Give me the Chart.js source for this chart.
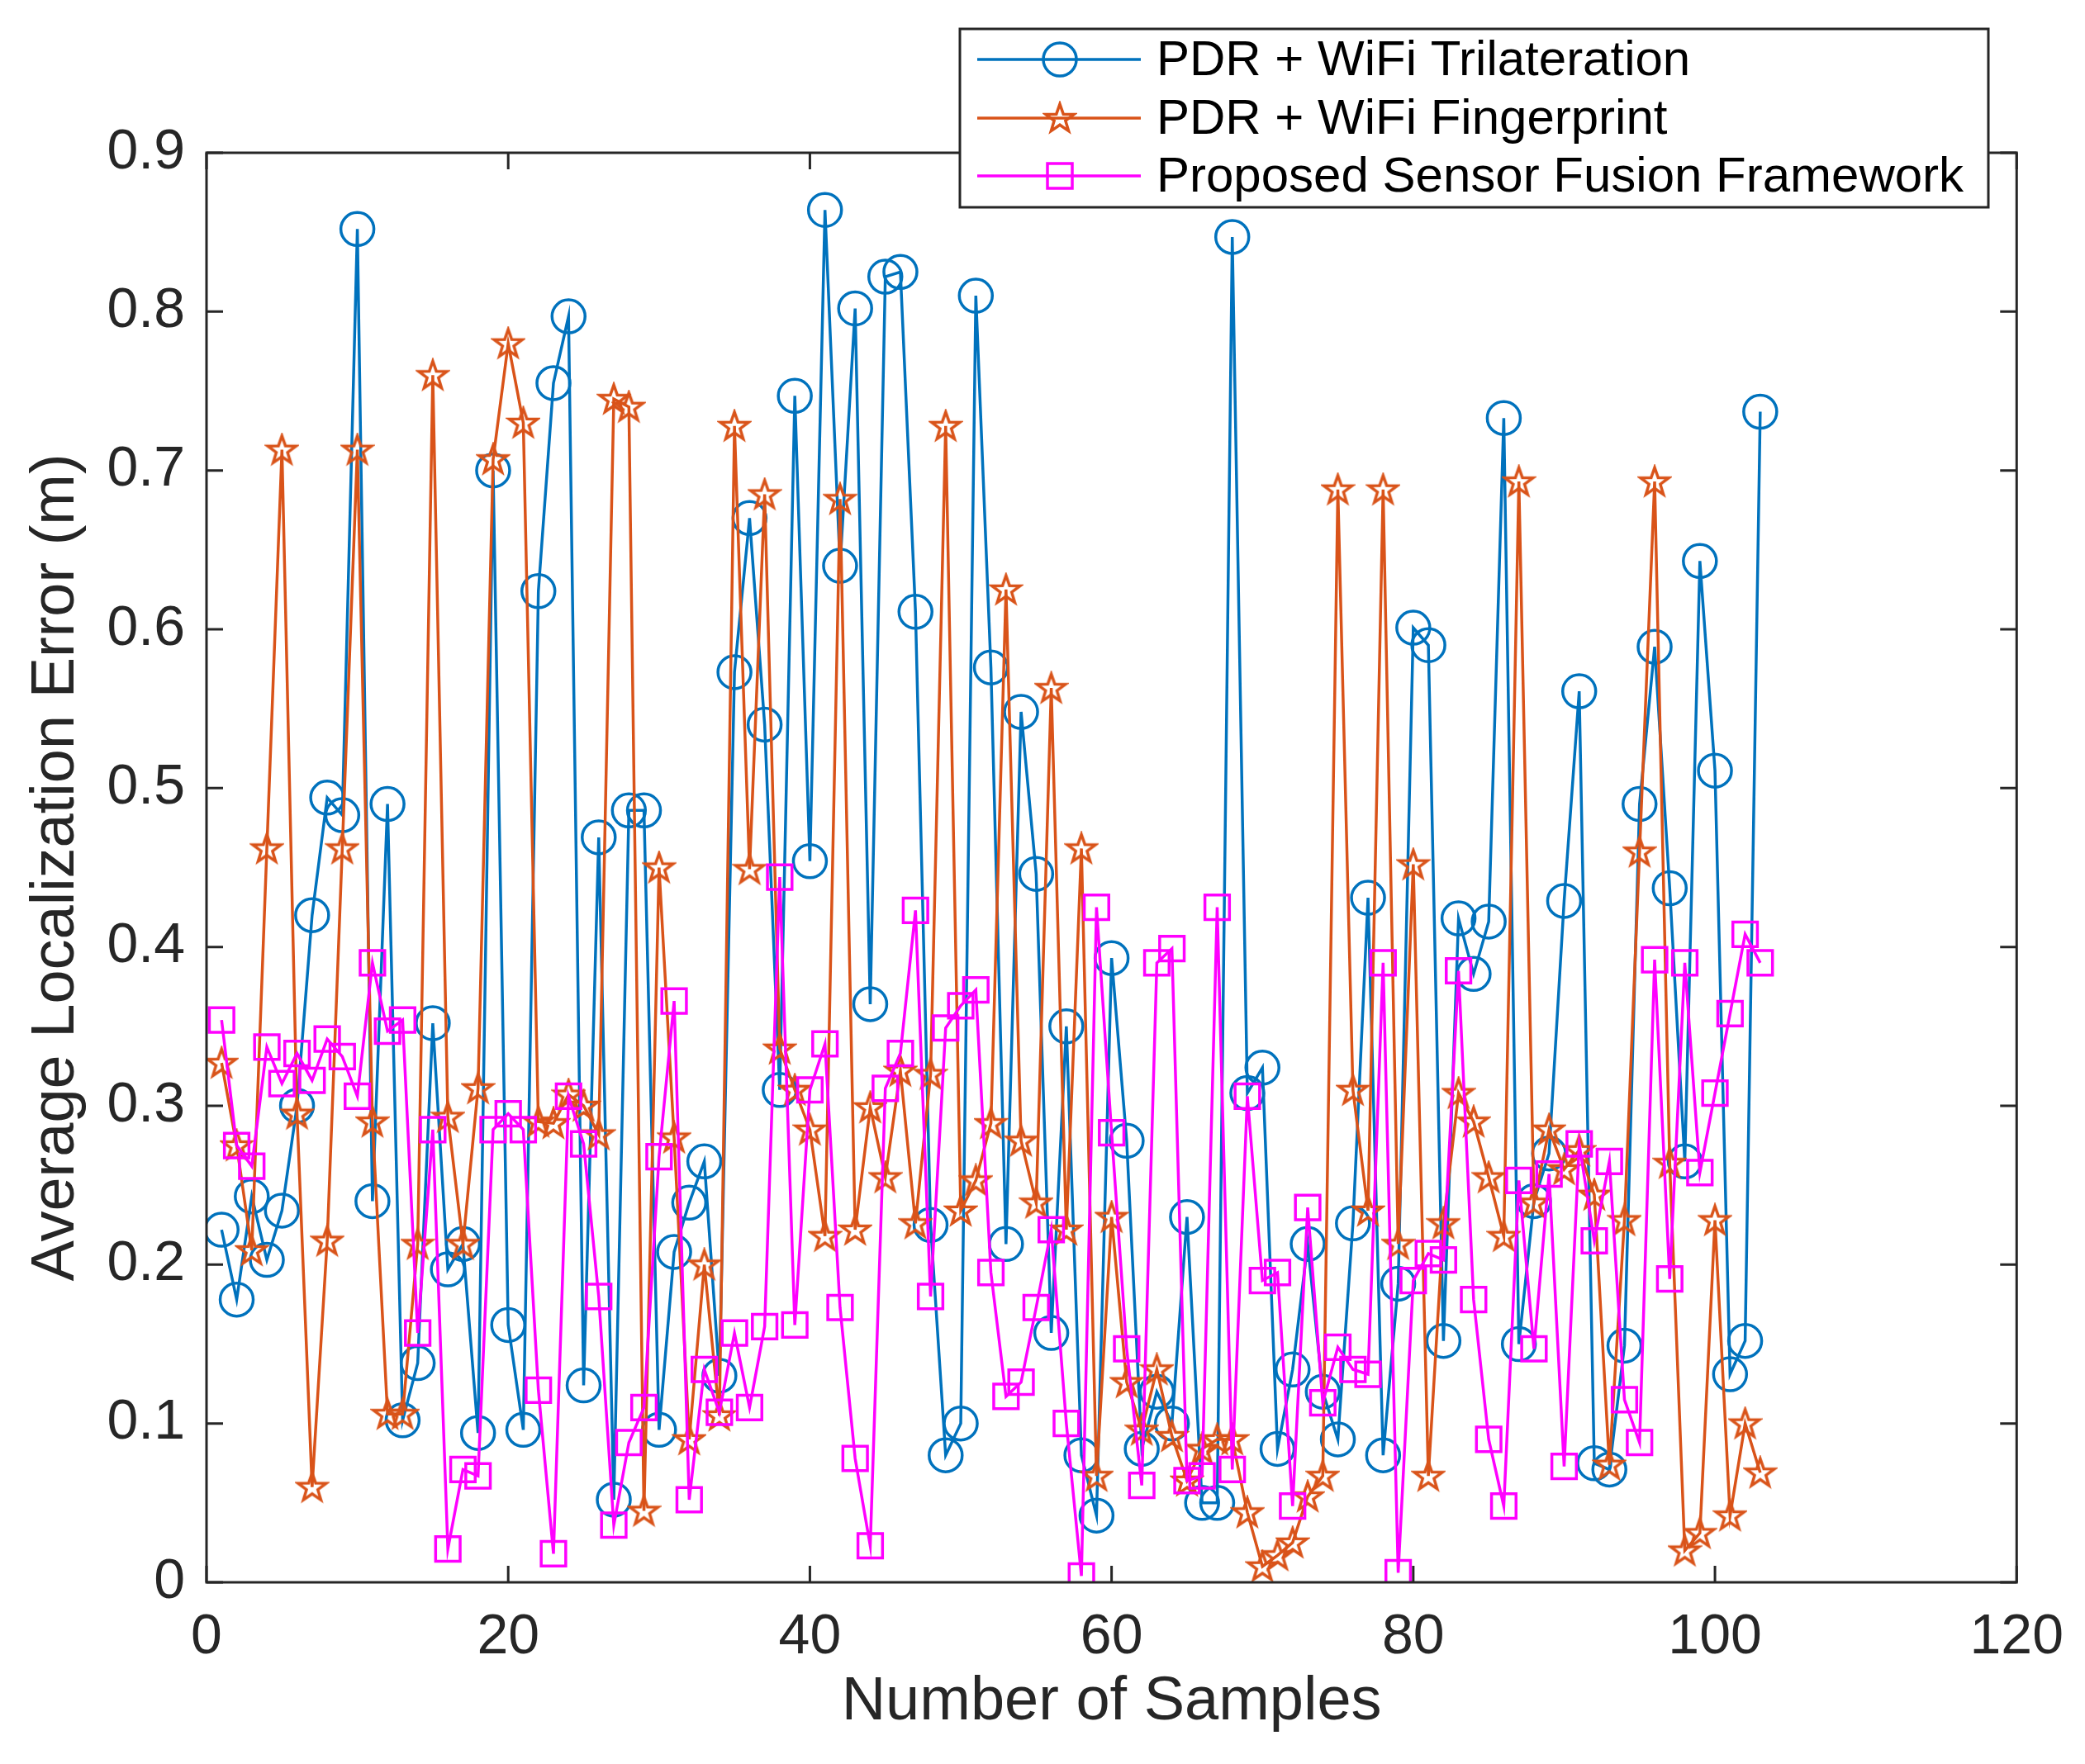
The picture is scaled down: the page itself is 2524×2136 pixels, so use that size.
<!DOCTYPE html>
<html>
<head>
<meta charset="utf-8">
<script src="https://cdn.jsdelivr.net/npm/chart.js@4.4.1/dist/chart.umd.min.js"></script>
<style>
  html, body { margin: 0; padding: 0; background: #fff; }
  #wrap { width: 2524px; height: 2136px; }
</style>
</head>
<body>
<div id="wrap"><canvas id="chart" width="2524" height="2136"></canvas></div>
<script>
// sample numbers (x axis)
const samples = [
  1, 2, 3, 4, 5, 6, 7, 8, 9, 10, 11, 12, 13, 14, 15, 16, 17, 18, 19, 20,
  21, 22, 23, 24, 25, 26, 27, 28, 29, 30, 31, 32, 33, 34, 35, 36, 37, 38, 39, 40,
  41, 42, 43, 44, 45, 46, 47, 48, 49, 50, 51, 52, 53, 54, 55, 56, 57, 58, 59, 60,
  61, 62, 63, 64, 65, 66, 67, 68, 69, 70, 71, 72, 73, 74, 75, 76, 77, 78, 79, 80,
  81, 82, 83, 84, 85, 86, 87, 88, 89, 90, 91, 92, 93, 94, 95, 96, 97, 98, 99, 100,
  101, 102, 103
];

const trilateration = [
  0.222, 0.178, 0.243, 0.203, 0.234, 0.300, 0.420, 0.494, 0.483, 0.852,
  0.240, 0.490, 0.102, 0.138, 0.352, 0.197, 0.213, 0.094, 0.700, 0.162,
  0.096, 0.624, 0.755, 0.797, 0.124, 0.469, 0.052, 0.486, 0.486, 0.096,
  0.208, 0.239, 0.265, 0.130, 0.573, 0.670, 0.540, 0.310, 0.747, 0.454,
  0.864, 0.640, 0.802, 0.364, 0.822, 0.825, 0.611, 0.225, 0.080, 0.100,
  0.810, 0.576, 0.213, 0.548, 0.446, 0.157, 0.350, 0.080, 0.042, 0.393,
  0.278, 0.084, 0.120, 0.100, 0.230, 0.050, 0.050, 0.847, 0.308, 0.324,
  0.084, 0.134, 0.213, 0.120, 0.090, 0.226, 0.431, 0.080, 0.188, 0.601,
  0.590, 0.152, 0.418, 0.383, 0.416, 0.733, 0.150, 0.240, 0.270, 0.429,
  0.561, 0.075, 0.071, 0.149, 0.490, 0.589, 0.437, 0.265, 0.643, 0.511,
  0.131, 0.152, 0.737
];

const fingerprint = [
  0.327, 0.275, 0.209, 0.462, 0.713, 0.295, 0.060, 0.215, 0.462, 0.713,
  0.290, 0.106, 0.106, 0.213, 0.760, 0.293, 0.213, 0.311, 0.707, 0.780,
  0.730, 0.290, 0.289, 0.307, 0.300, 0.282, 0.745, 0.740, 0.045, 0.450,
  0.280, 0.090, 0.200, 0.105, 0.728, 0.449, 0.685, 0.336, 0.310, 0.285,
  0.218, 0.682, 0.222, 0.299, 0.255, 0.322, 0.226, 0.320, 0.728, 0.234,
  0.253, 0.289, 0.625, 0.278, 0.239, 0.563, 0.222, 0.462, 0.067, 0.230,
  0.126, 0.096, 0.134, 0.092, 0.064, 0.084, 0.090, 0.090, 0.044, 0.010,
  0.017, 0.025, 0.054, 0.067, 0.688, 0.310, 0.234, 0.688, 0.213, 0.452,
  0.067, 0.226, 0.308, 0.290, 0.255, 0.218, 0.693, 0.239, 0.285, 0.260,
  0.272, 0.244, 0.074, 0.228, 0.460, 0.693, 0.264, 0.020, 0.031, 0.228,
  0.042, 0.100, 0.069
];

const fusion = [
  0.354, 0.275, 0.262, 0.337, 0.314, 0.333, 0.316, 0.342, 0.331, 0.306,
  0.390, 0.347, 0.354, 0.157, 0.285, 0.021, 0.071, 0.067, 0.285, 0.295,
  0.285, 0.121, 0.018, 0.306, 0.276, 0.180, 0.036, 0.088, 0.110, 0.268,
  0.366, 0.052, 0.134, 0.107, 0.157, 0.110, 0.161, 0.444, 0.162, 0.310,
  0.339, 0.173, 0.078, 0.023, 0.311, 0.333, 0.423, 0.180, 0.349, 0.363,
  0.373, 0.195, 0.117, 0.126, 0.173, 0.222, 0.100, 0.004, 0.425, 0.283,
  0.147, 0.061, 0.390, 0.399, 0.064, 0.067, 0.425, 0.071, 0.306, 0.190,
  0.195, 0.048, 0.236, 0.113, 0.148, 0.134, 0.131, 0.390, 0.006, 0.190,
  0.207, 0.203, 0.385, 0.178, 0.090, 0.048, 0.253, 0.147, 0.257, 0.073,
  0.276, 0.215, 0.265, 0.115, 0.088, 0.392, 0.191, 0.390, 0.258, 0.308,
  0.358, 0.408, 0.390
];

const seriesNames = [
  'PDR + WiFi Trilateration',
  'PDR + WiFi Fingerprint',
  'Proposed Sensor Fusion Framework'
];
const xTicks = [0, 20, 40, 60, 80, 100, 120];
const yTicks = [0, 0.1, 0.2, 0.3, 0.4, 0.5, 0.6, 0.7, 0.8, 0.9];

const BLUE = '#0072BD';
const ORANGE = '#D95319';
const MAGENTA = '#FF00FF';
const INK = '#262626';
const FONT = '"Liberation Sans", Arial, Helvetica, sans-serif';

// hollow pentagram marker like MATLAB's 'p'
function makeStar(color, size) {
  const c = document.createElement('canvas');
  c.width = size; c.height = size;
  const g = c.getContext('2d');
  const cx = size / 2, cy = size / 2 + 1;
  const ro = size / 2 - 3, ri = ro * 0.4;
  g.beginPath();
  for (let k = 0; k < 10; k++) {
    const r = k % 2 === 0 ? ro : ri;
    const a = -Math.PI / 2 + k * Math.PI / 5;
    const px = cx + r * Math.cos(a), py = cy + r * Math.sin(a);
    if (k === 0) g.moveTo(px, py); else g.lineTo(px, py);
  }
  g.closePath();
  g.lineWidth = 3.5;
  g.strokeStyle = color;
  g.stroke();
  return c;
}
const starImg = makeStar(ORANGE, 42);

const toPoints = vals => vals.map((v, i) => ({ x: samples[i], y: v }));

// box, inward ticks and legend, drawn the MATLAB way
const matlabAxes = {
  id: 'matlabAxes',
  afterDatasetsDraw(chart) {
    const { ctx, chartArea: a, scales } = chart;
    ctx.save();
    ctx.strokeStyle = INK;
    ctx.lineWidth = 3;
    ctx.strokeRect(a.left, a.top, a.right - a.left, a.bottom - a.top);
    const tl = 20;
    ctx.beginPath();
    xTicks.forEach(t => {
      const px = scales.x.getPixelForValue(t);
      ctx.moveTo(px, a.bottom); ctx.lineTo(px, a.bottom - tl);
      ctx.moveTo(px, a.top); ctx.lineTo(px, a.top + tl);
    });
    yTicks.forEach(t => {
      const py = scales.y.getPixelForValue(t);
      ctx.moveTo(a.left, py); ctx.lineTo(a.left + tl, py);
      ctx.moveTo(a.right, py); ctx.lineTo(a.right - tl, py);
    });
    ctx.stroke();
    ctx.restore();
  },
  afterDraw(chart) {
    const { ctx } = chart;
    const box = { x: 1162, y: 35, w: 1245, h: 216 };
    ctx.save();
    ctx.fillStyle = '#fff';
    ctx.fillRect(box.x, box.y, box.w, box.h);
    ctx.strokeStyle = INK;
    ctx.lineWidth = 3;
    ctx.strokeRect(box.x, box.y, box.w, box.h);
    const colors = [BLUE, ORANGE, MAGENTA];
    const rows = [72, 143, 213];
    rows.forEach((ry, i) => {
      ctx.strokeStyle = colors[i];
      ctx.lineWidth = 3.5;
      ctx.beginPath();
      ctx.moveTo(1183, ry); ctx.lineTo(1381, ry);
      ctx.stroke();
      const mx = 1283;
      if (i === 0) {
        ctx.beginPath(); ctx.arc(mx, ry, 20, 0, Math.PI * 2); ctx.stroke();
      } else if (i === 1) {
        ctx.drawImage(starImg, mx - 21, ry - 21, 42, 42);
      } else {
        ctx.strokeRect(mx - 15, ry - 15, 30, 30);
      }
      ctx.fillStyle = '#000';
      ctx.font = '60px ' + FONT;
      ctx.textBaseline = 'middle';
      ctx.textAlign = 'left';
      ctx.fillText(seriesNames[i], 1400, ry + 2);
    });
    ctx.restore();
  }
};

new Chart(document.getElementById('chart').getContext('2d'), {
  type: 'line',
  data: {
    datasets: [
      {
        label: seriesNames[0],
        data: toPoints(trilateration),
        borderColor: BLUE,
        backgroundColor: 'rgba(0,0,0,0)',
        borderWidth: 3.5,
        pointStyle: 'circle',
        pointRadius: 20,
        pointBorderWidth: 3.5,
        pointBorderColor: BLUE,
        pointBackgroundColor: 'rgba(0,0,0,0)',
        tension: 0,
        order: 2
      },
      {
        label: seriesNames[1],
        data: toPoints(fingerprint),
        borderColor: ORANGE,
        backgroundColor: 'rgba(0,0,0,0)',
        borderWidth: 3.5,
        pointStyle: starImg,
        pointRadius: 21,
        tension: 0,
        order: 1
      },
      {
        label: seriesNames[2],
        data: toPoints(fusion),
        borderColor: MAGENTA,
        backgroundColor: 'rgba(0,0,0,0)',
        borderWidth: 3.5,
        pointStyle: 'rect',
        pointRadius: 21,
        pointBorderWidth: 3.5,
        pointBorderColor: MAGENTA,
        pointBackgroundColor: 'rgba(0,0,0,0)',
        tension: 0,
        order: 0
      }
    ]
  },
  options: {
    responsive: false,
    animation: false,
    devicePixelRatio: 1,
    layout: { padding: { top: 185, right: 82, bottom: 0, left: 0 } },
    plugins: {
      legend: { display: false },
      tooltip: { enabled: false }
    },
    scales: {
      x: {
        type: 'linear',
        min: 0,
        max: 120,
        afterFit: s => { s.height = 220; },
        afterBuildTicks: s => { s.ticks = xTicks.map(v => ({ value: v })); },
        grid: { display: false, drawTicks: false },
        border: { display: false },
        ticks: {
          color: INK,
          font: { family: FONT, size: 68 },
          padding: 26,
          maxRotation: 0
        },
        title: {
          display: true,
          text: 'Number of Samples',
          color: INK,
          font: { family: FONT, size: 74 },
          padding: { top: 0, bottom: 30 }
        }
      },
      y: {
        type: 'linear',
        min: 0,
        max: 0.9,
        afterFit: s => { s.width = 250; },
        afterBuildTicks: s => { s.ticks = yTicks.map(v => ({ value: v })); },
        grid: { display: false, drawTicks: false },
        border: { display: false },
        ticks: {
          color: INK,
          font: { family: FONT, size: 68 },
          padding: 26,
          callback: v => (v === 0 ? '0' : v.toFixed(1))
        },
        title: {
          display: true,
          text: 'Average Localization Error (m)',
          color: INK,
          font: { family: FONT, size: 74 },
          padding: { top: 24, bottom: 0 }
        }
      }
    }
  },
  plugins: [matlabAxes]
});
</script>
</body>
</html>
